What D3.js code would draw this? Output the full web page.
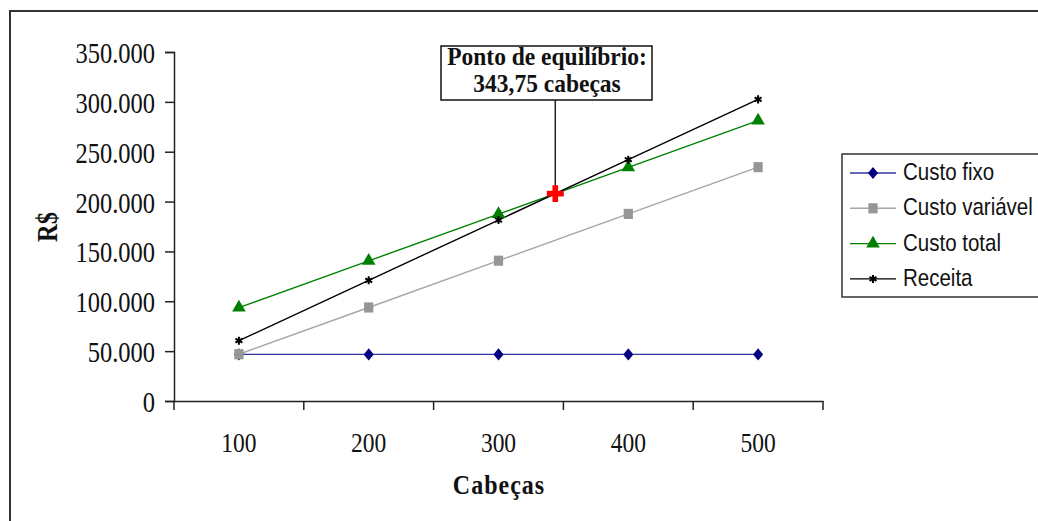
<!DOCTYPE html>
<html><head><meta charset="utf-8">
<script src="https://cdn.jsdelivr.net/npm/d3@7"></script>
<style>html,body{margin:0;padding:0;background:#fff;}svg{display:block;}</style>
</head><body>
<svg id="c" width="1038" height="521"></svg>
<script>
const categories = [100, 200, 300, 400, 500];
const custoFixo = [46750, 46750, 46750, 46750, 46750];
const custoVariavel = [46900, 93800, 140700, 187600, 234500];
const custoTotal = [93650, 140550, 187450, 234350, 281250];
const receita = [60500, 121000, 181500, 242000, 302500];
const yTicks = [0, 50000, 100000, 150000, 200000, 250000, 300000, 350000];
const breakEvenQ = 343.75;
const breakEvenValue = 207968.75;
const seriesNames = ["Custo fixo", "Custo variável", "Custo total", "Receita"];
const annotationLines = ["Ponto de equilíbrio:", "343,75 cabeças"];

const series = [
  {name: seriesNames[0], values: custoFixo, line: "#3333a0", fill: "#000080", sym: d3.symbolDiamond2, size: 65, stroke: false, sy: 1.2},
  {name: seriesNames[1], values: custoVariavel, line: "#a6a6a6", fill: "#969696", sym: d3.symbolSquare, size: 85, stroke: false, sy: 1.1},
  {name: seriesNames[2], values: custoTotal, line: "#008000", fill: "#008000", sym: d3.symbolTriangle, size: 80, stroke: false, sy: 1},
  {name: seriesNames[3], values: receita, line: "#000000", fill: "none", sym: d3.symbolAsterisk, size: 45, stroke: true, sy: 1}
];

const svg = d3.select("#c");
const serif = "'Liberation Serif', 'Times New Roman', serif";
const sans = "'Liberation Sans', Arial, sans-serif";
const SY = 1.16; // vertical stretch of text as in the reference

// outer frame
svg.append("path").attr("d", "M10,521 L10,11 L1038,11").attr("fill", "none").attr("stroke", "#333").attr("stroke-width", 2);

const x = d3.scaleBand().domain(categories).range([174, 823]).padding(0);
const y = d3.scaleLinear().domain([0, 350000]).range([401, 52]);
const xc = d => x(d) + x.bandwidth() / 2;
const xq = d3.scaleLinear().domain([categories[0], categories[categories.length - 1]]).range([xc(categories[0]), xc(categories[categories.length - 1])]);

// y axis
const yAxis = svg.append("g").attr("transform", "translate(174,0)")
  .call(d3.axisLeft(y).tickValues(yTicks).tickSize(9).tickPadding(8)
    .tickFormat(d => d3.format(",")(d).replace(/,/g, ".")));
yAxis.select(".domain").attr("stroke", "#222").attr("stroke-width", 1.5);
yAxis.selectAll(".tick line").attr("stroke", "#222").attr("stroke-width", 1.5);
yAxis.selectAll("text").attr("font-family", serif).attr("font-size", 24.5).attr("fill", "#111")
  .attr("x", -19).attr("dy", "0.3em").attr("transform", `translate(0,2) scale(1,${SY})`);

// x axis
const xAxis = svg.append("g").attr("transform", "translate(0,401)")
  .call(d3.axisBottom(x).tickSize(0).tickPadding(0));
xAxis.select(".domain").attr("stroke", "#222").attr("stroke-width", 1.5);
xAxis.selectAll("text").attr("font-family", serif).attr("font-size", 23.5).attr("fill", "#111")
  .attr("y", 0).attr("dy", 0).attr("transform", `translate(0,51) scale(1,${SY})`);
// tick marks at category boundaries
const bounds = categories.map(c => x(c)).concat([x(categories[categories.length - 1]) + x.bandwidth()]);
svg.append("g").selectAll("line").data(bounds).join("line")
  .attr("x1", d => d).attr("x2", d => d).attr("y1", 401).attr("y2", 410)
  .attr("stroke", "#222").attr("stroke-width", 1.5);

// axis titles
svg.append("text").attr("transform", `translate(57,227) rotate(-90) scale(1,${SY})`).attr("text-anchor", "middle")
  .attr("font-family", serif).attr("font-weight", "bold").attr("font-size", 24.5).attr("fill", "#111").text("R$");
svg.append("text").attr("transform", `translate(499,494) scale(1,${SY})`).attr("text-anchor", "middle")
  .attr("font-family", serif).attr("font-weight", "bold").attr("font-size", 24).attr("letter-spacing", 1).attr("fill", "#111").text("Cabeças");

// lines
const lineGen = d3.line().x((d, i) => xc(categories[i])).y(d => y(d));
series.forEach(s => {
  svg.append("path").datum(s.values).attr("d", lineGen).attr("fill", "none")
    .attr("stroke", s.line).attr("stroke-width", 1.4);
});
series.forEach(s => {
  svg.append("g").selectAll("path").data(s.values).join("path")
    .attr("transform", (d, i) => `translate(${xc(categories[i])},${y(d)}) scale(1,${s.sy})`)
    .attr("d", d3.symbol(s.sym, s.size))
    .attr("fill", s.stroke ? "none" : s.fill)
    .attr("stroke", s.stroke ? "#000" : "none").attr("stroke-width", 2);
});

// break-even annotation
const bx = xq(breakEvenQ), by = y(breakEvenValue);
svg.append("line").attr("x1", bx).attr("x2", bx).attr("y1", 100).attr("y2", by).attr("stroke", "#222").attr("stroke-width", 1.5);
svg.append("path").attr("transform", `translate(${bx},${by})`).attr("d", d3.symbol(d3.symbolCross, 160)).attr("fill", "#ff0000");
svg.append("rect").attr("x", 441).attr("y", 46).attr("width", 211).attr("height", 54)
  .attr("fill", "#fff").attr("stroke", "#111").attr("stroke-width", 1.5);
svg.append("g").selectAll("text").data(annotationLines).join("text")
  .attr("transform", (d, i) => `translate(547,${65 + i * 27}) scale(1,1.04)`).attr("text-anchor", "middle")
  .attr("font-family", serif).attr("font-weight", "bold").attr("font-size", 23.5).attr("fill", "#111").text(d => d);

// legend
svg.append("rect").attr("x", 842).attr("y", 154).attr("width", 210).attr("height", 143)
  .attr("fill", "#fff").attr("stroke", "#333").attr("stroke-width", 1.5);
const lg = svg.append("g").selectAll("g").data(series).join("g")
  .attr("transform", (d, i) => `translate(0,${173 + i * 35.3})`);
lg.append("line").attr("x1", 850).attr("x2", 896).attr("y1", 0).attr("y2", 0).attr("stroke", d => d.line).attr("stroke-width", 1.4);
lg.append("path").attr("transform", d => `translate(873,0) scale(1,${d.sy})`).attr("d", d => d3.symbol(d.sym, d.size)())
  .attr("fill", d => d.stroke ? "none" : d.fill).attr("stroke", d => d.stroke ? "#000" : "none").attr("stroke-width", 2);
lg.append("text").attr("transform", `translate(903,7) scale(1,${SY})`).attr("font-family", sans).attr("font-size", 20.5).attr("fill", "#111").text(d => d.name);
</script>
</body></html>
